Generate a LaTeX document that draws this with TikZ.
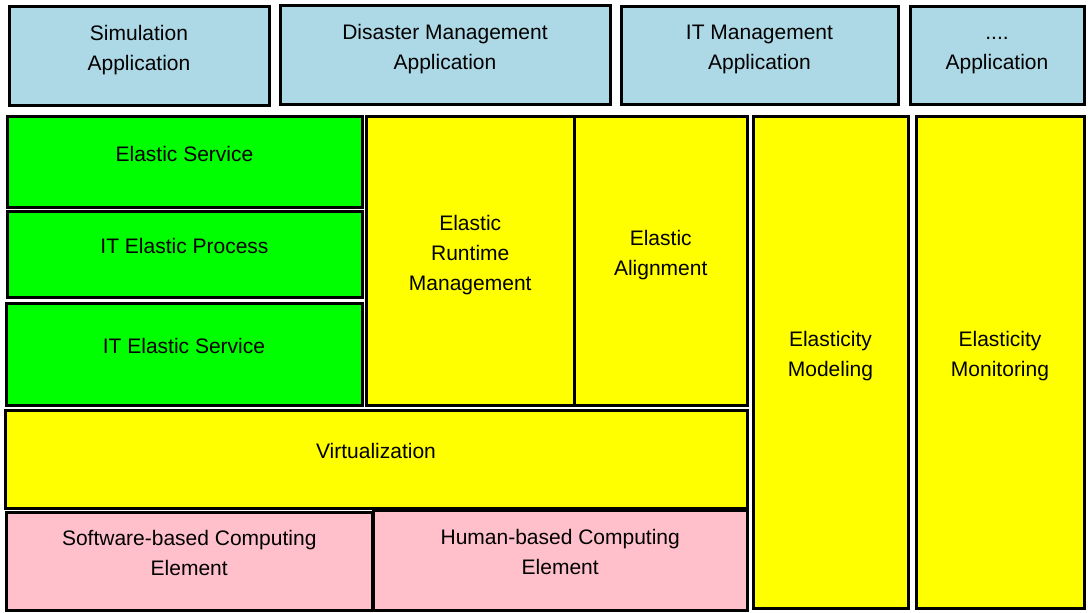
\documentclass[tikz,border=0pt]{standalone}
\usepackage{fontspec}
\setmainfont{Liberation Sans}
\usetikzlibrary{positioning}
\definecolor{appblue}{RGB}{173,216,230}
\definecolor{elgreen}{RGB}{0,255,0}
\definecolor{elyellow}{RGB}{255,255,0}
\definecolor{elpink}{RGB}{255,192,203}

\begin{document}
\begin{tikzpicture}[x=1pt,y=-1pt,font=\fontsize{21}{30}\selectfont,
 blk/.style={draw,line width=3pt,align=center,anchor=north west,inner sep=0pt,text depth=16pt},
 app/.style={blk,fill=appblue},
 svc/.style={blk,fill=elgreen},
 mgmt/.style={blk,fill=elyellow},
 elem/.style={blk,fill=elpink}]
\useasboundingbox (0,0) rectangle (1088,613);
% applications
\node[app,minimum width=260pt,minimum height=99pt] (sim) at (7.5,4.5) {Simulation\\Application};
\node[app,minimum width=330pt,minimum height=99pt] (disaster) at (278.5,3.5) {Disaster Management\\Application};
\node[app,minimum width=277pt,minimum height=98pt] (itmgmt) at (619.5,4.5) {IT Management\\Application};
\node[app,minimum width=174pt,minimum height=98pt] (other) at (908.5,4.5) {\vphantom{A}....\\Application};
% elastic services
\node[svc,minimum width=355pt,minimum height=91pt] (elsvc) at (5.5,114.5) {Elastic Service};
\node[svc,minimum width=355pt,minimum height=86pt] (itproc) at (5.5,209.5) {IT Elastic Process};
\node[svc,minimum width=356pt,minimum height=102pt] (itsvc) at (4.5,301.5) {IT Elastic Service};
% management
\node[mgmt,minimum width=208.5pt,minimum height=289pt] (runtime) at (364.5,114.5) {Elastic\\Runtime\\Management};
\node[mgmt,minimum width=172.5pt,minimum height=289pt] (align) at (573,114.5) {Elastic\\Alignment};
\node[mgmt,minimum width=742pt,minimum height=98pt] (virt) at (3.5,408.5) {Virtualization};
\node[mgmt,minimum width=155pt,minimum height=492pt] (model) at (751.5,114.5) {Elasticity\\Modeling};
\node[mgmt,minimum width=168pt,minimum height=492pt] (monitor) at (914.5,114.5) {Elasticity\\Monitoring};
% computing elements
\node[elem,minimum width=366.5pt,minimum height=98pt] (swce) at (4.5,510.5) {Software-based Computing\\Element};
\node[elem,minimum width=373.5pt,minimum height=100pt] (huce) at (372,508.5) {Human-based Computing\\Element};
\end{tikzpicture}
\end{document}
